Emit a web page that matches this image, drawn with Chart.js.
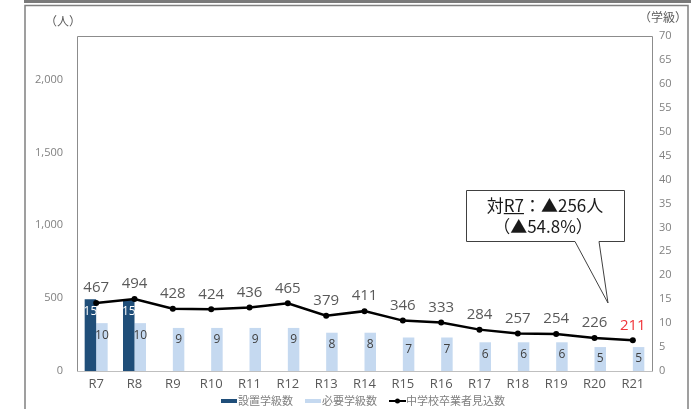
<!DOCTYPE html>
<html lang="ja">
<head>
<meta charset="utf-8">
<script src="https://cdn.jsdelivr.net/npm/chart.js@4/dist/chart.umd.min.js"></script>
<style>
  html, body { margin: 0; padding: 0; background: #fff; }
  #wrap { width: 691px; height: 409px; }
</style>
</head>
<body>
<div id="wrap"><canvas id="chart" width="691" height="409"></canvas></div>
<script>
// 年度
const categories = ['R7', 'R8', 'R9', 'R10', 'R11', 'R12', 'R13', 'R14', 'R15', 'R16', 'R17', 'R18', 'R19', 'R20', 'R21'];
// 設置学級数
const classesSet = [15, 15, null, null, null, null, null, null, null, null, null, null, null, null, null];
// 必要学級数
const classesNeeded = [10, 10, 9, 9, 9, 9, 8, 8, 7, 7, 6, 6, 6, 5, 5];
// 中学校卒業者見込数（人）
const graduates = [467, 494, 428, 424, 436, 465, 379, 411, 346, 333, 284, 257, 254, 226, 211];
// 左軸の目盛
const peopleTicks = [0, 500, 1000, 1500, 2000];

const FONT = '"Open Sans", "Noto Sans CJK JP", sans-serif';
const JP_FONT = '"Noto Sans CJK JP", sans-serif';
const DARK = '#1f4e79';
const LIGHT = '#c5d9f0';

// frame lines and plot box
const framePlugin = {
    id: 'frame',
    beforeDraw(chart) {
        const ctx = chart.ctx;
        ctx.save();
        ctx.fillStyle = '#7a7a7a';
        ctx.fillRect(24, 0, 667, 3);
        ctx.strokeStyle = '#808080';
        ctx.lineWidth = 1.5;
        ctx.beginPath();
        ctx.moveTo(25, 420);
        ctx.lineTo(25, 5.5);
        ctx.lineTo(688, 5.5);
        ctx.lineTo(688, 420);
        ctx.stroke();

        ctx.fillStyle = '#595959';
        ctx.font = '12px ' + JP_FONT;
        ctx.textAlign = 'center';
        ctx.textBaseline = 'middle';
        ctx.fillText('（人）', 63, 21);
        ctx.fillText('（学級）', 663, 17);
        ctx.restore();
    },
    beforeDatasetsDraw(chart) {
        const { ctx, chartArea: a } = chart;
        ctx.save();
        ctx.strokeStyle = '#8c8c8c';
        ctx.lineWidth = 1;
        ctx.beginPath();
        ctx.moveTo(Math.round(a.left) + 0.5, a.bottom);
        ctx.lineTo(Math.round(a.left) + 0.5, Math.round(a.top) + 0.5);
        ctx.lineTo(Math.round(a.right) + 0.5, Math.round(a.top) + 0.5);
        ctx.lineTo(Math.round(a.right) + 0.5, a.bottom);
        ctx.stroke();
        ctx.restore();
    }
};

// value labels on bars and line points
const labelPlugin = {
    id: 'valueLabels',
    afterDatasetsDraw(chart) {
        const ctx = chart.ctx;
        ctx.save();
        ctx.textAlign = 'center';
        ctx.textBaseline = 'middle';
        chart.data.datasets.forEach((ds, i) => {
            const meta = chart.getDatasetMeta(i);
            meta.data.forEach((el, j) => {
                const v = ds.data[j];
                if (v === null) return;
                if (ds.type === 'line') {
                    ctx.font = '15px ' + FONT;
                    ctx.fillStyle = j === ds.data.length - 1 ? '#f0353b' : '#595959';
                    ctx.fillText(String(v), el.x, el.y - 15);
                } else {
                    ctx.font = '12px ' + FONT;
                    ctx.fillStyle = i === 0 ? '#ffffff' : '#404040';
                    ctx.fillText(String(v), el.x, el.y + 12);
                }
            });
        });
        ctx.restore();
    }
};

// speech-bubble note: change from R7 to R21
const calloutPlugin = {
    id: 'callout',
    afterDraw(chart) {
        const ctx = chart.ctx;
        const first = graduates[0];
        const last = graduates[graduates.length - 1];
        const diff = first - last;
        const pct = (diff / first * 100).toFixed(1);
        const L = 466, R = 624, T = 190, B = 241;
        ctx.save();
        ctx.beginPath();
        ctx.moveTo(L + 0.5, T + 0.5);
        ctx.lineTo(R + 0.5, T + 0.5);
        ctx.lineTo(R + 0.5, B + 0.5);
        ctx.lineTo(599, B + 0.5);
        ctx.lineTo(608, 303);
        ctx.lineTo(575, B + 0.5);
        ctx.lineTo(L + 0.5, B + 0.5);
        ctx.closePath();
        ctx.fillStyle = '#ffffff';
        ctx.fill();
        ctx.strokeStyle = '#404040';
        ctx.lineWidth = 1;
        ctx.stroke();

        ctx.font = '17px ' + JP_FONT;
        ctx.fillStyle = '#1a1a1a';
        ctx.textBaseline = 'middle';
        const parts = ['対', categories[0], '：▲' + diff + '人'];
        const widths = parts.map(p => ctx.measureText(p).width);
        const total = widths.reduce((s, w) => s + w, 0);
        let x = (L + R) / 2 - total / 2;
        const y1 = 206;
        parts.forEach((p, k) => {
            ctx.textAlign = 'left';
            ctx.fillText(p, x, y1);
            if (k === 1) {
                ctx.fillRect(x, y1 + 7, widths[k], 1.2);
            }
            x += widths[k];
        });
        ctx.textAlign = 'center';
        ctx.fillText('（▲' + pct + '%）', (L + R) / 2 - 2, 227);
        ctx.restore();
    }
};

// legend along the bottom edge
const legendPlugin = {
    id: 'bottomLegend',
    afterDraw(chart) {
        const ctx = chart.ctx;
        const y = 401;
        let x = 221;
        ctx.save();
        ctx.font = '11px ' + JP_FONT;
        ctx.textBaseline = 'middle';
        ctx.textAlign = 'left';
        chart.data.datasets.forEach((ds) => {
            if (ds.type === 'line') {
                ctx.strokeStyle = ds.borderColor;
                ctx.lineWidth = 2;
                ctx.beginPath();
                ctx.moveTo(x, y);
                ctx.lineTo(x + 17, y);
                ctx.stroke();
                ctx.fillStyle = ds.borderColor;
                ctx.beginPath();
                ctx.arc(x + 8.5, y, 2.5, 0, Math.PI * 2);
                ctx.fill();
            } else {
                ctx.fillStyle = ds.backgroundColor;
                ctx.fillRect(x, y - 2, 16, 4);
            }
            x += 17;
            ctx.fillStyle = '#7f7f7f';
            ctx.fillText(ds.label, x, y);
            x += ctx.measureText(ds.label).width + 12;
        });
        ctx.restore();
    }
};

new Chart(document.getElementById('chart'), {
    data: {
        labels: categories,
        datasets: [
            {
                type: 'bar',
                label: '設置学級数',
                data: classesSet,
                backgroundColor: DARK,
                yAxisID: 'yClass',
                order: 1,
                categoryPercentage: 0.6,
                barPercentage: 1.0
            },
            {
                type: 'bar',
                label: '必要学級数',
                data: classesNeeded,
                backgroundColor: LIGHT,
                yAxisID: 'yClass',
                order: 1,
                categoryPercentage: 0.6,
                barPercentage: 1.0
            },
            {
                type: 'line',
                label: '中学校卒業者見込数',
                data: graduates,
                borderColor: '#000000',
                backgroundColor: '#000000',
                borderWidth: 2.5,
                pointRadius: 3,
                pointBackgroundColor: '#000000',
                pointBorderWidth: 0,
                tension: 0,
                yAxisID: 'yPeople',
                order: 0
            }
        ]
    },
    options: {
        responsive: false,
        animation: false,
        layout: { padding: { top: 36, left: 0, right: 0, bottom: 0 } },
        plugins: {
            legend: { display: false },
            tooltip: { enabled: false }
        },
        scales: {
            x: {
                offset: true,
                grid: { display: false, drawTicks: false },
                border: { display: true, color: '#bfbfbf' },
                ticks: { color: '#595959', font: { family: FONT, size: 13 }, padding: 5, maxRotation: 0 },
                afterFit: s => { s.height = 38; }
            },
            yPeople: {
                position: 'left',
                min: 0,
                max: 2300,
                grid: { display: false, drawTicks: false },
                border: { display: false },
                ticks: {
                    autoSkip: false,
                    padding: 14,
                    color: '#808080',
                    font: { family: FONT, size: 11 },
                    callback: v => v.toLocaleString('en-US')
                },
                afterBuildTicks: s => { s.ticks = peopleTicks.map(value => ({ value })); },
                afterFit: s => { s.width = 77; }
            },
            yClass: {
                position: 'right',
                min: 0,
                max: 70,
                grid: { display: false, drawTicks: false },
                border: { display: false },
                ticks: {
                    stepSize: 5,
                    padding: 7,
                    color: '#808080',
                    font: { family: FONT, size: 11 }
                },
                afterFit: s => { s.width = 39; }
            }
        }
    },
    plugins: [framePlugin, labelPlugin, calloutPlugin, legendPlugin]
});
</script>
</body>
</html>
